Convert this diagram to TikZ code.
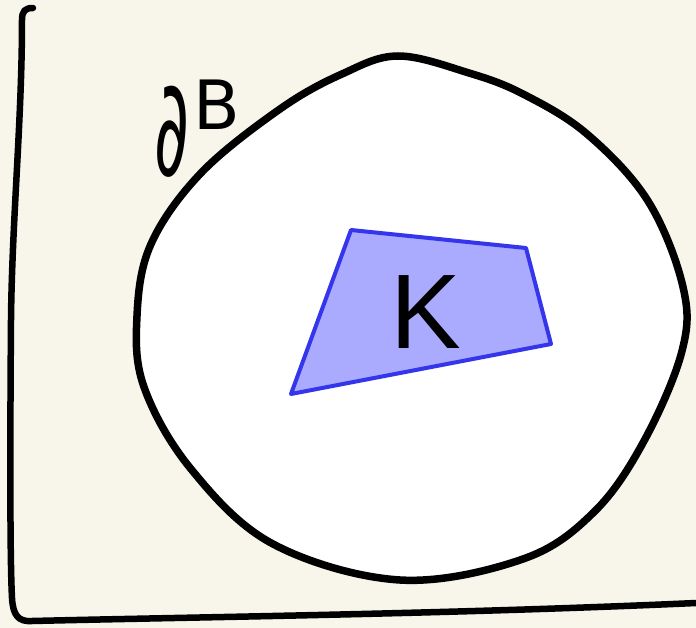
\documentclass[tikz,border=0pt]{standalone}
\usepackage{fontspec}
\setmainfont{Liberation Sans}
\newfontfamily\djv{DejaVu Sans}
\definecolor{paper}{HTML}{F8F6EA}
\definecolor{kfill}{HTML}{AAAAFF}
\definecolor{kline}{HTML}{3535EC}
\tikzset{
  ink/.style={line width=7.5pt, line cap=round, line join=round, black},
  axisline/.style={line width=6.5pt, line cap=round, line join=round, black},
  setK/.style={fill=kfill, draw=kline, line width=4pt, line join=round},
  lbl/.style={inner sep=0pt, text=black}
}
\begin{document}
\begin{tikzpicture}[x=1pt,y=-1pt]
\fill[paper] (0,0) rectangle (696,628);
\useasboundingbox (0,0) rectangle (696,628);
% frame lines
\draw[axisline] (33,8) .. controls (25,8) and (22,11) .. (22,20)
  .. controls (22,120) and (12,220) .. (11,320)
  .. controls (10,450) and (10,560) .. (12,598)
  .. controls (13,615) and (18,622) .. (32,621)
  .. controls (200,617) and (450,614) .. (696,603);
% blob B
\draw[ink, fill=white] plot[smooth cycle, tension=0.6] coordinates {
  (398,56) (469,73) (523,94) (587,134) (648,201) (683,287) (682,351) (644,441)
  (594,512) (523,559) (400,580) (273,544) (191,469) (144,387) (137,316)
  (151,244) (201,173) (280,109) (342,74)};
% set K
\draw[setK] (351,230) coordinate (k1) -- (526,248) coordinate (k2)
  -- (551,344) coordinate (k3) -- (291,394) coordinate (k4) -- cycle;
\node[lbl, font=\fontsize{106}{106}\selectfont] (K) at (426,312) {K};
% label dB
\node[lbl, anchor=south west] (dB) at (154,178)
  {\djv\fontsize{135}{135}\selectfont\scalebox{0.5}[1]{∂}\hspace{4pt}\raisebox{46pt}{\fontsize{68}{68}\selectfont B}};
\end{tikzpicture}
\end{document}
